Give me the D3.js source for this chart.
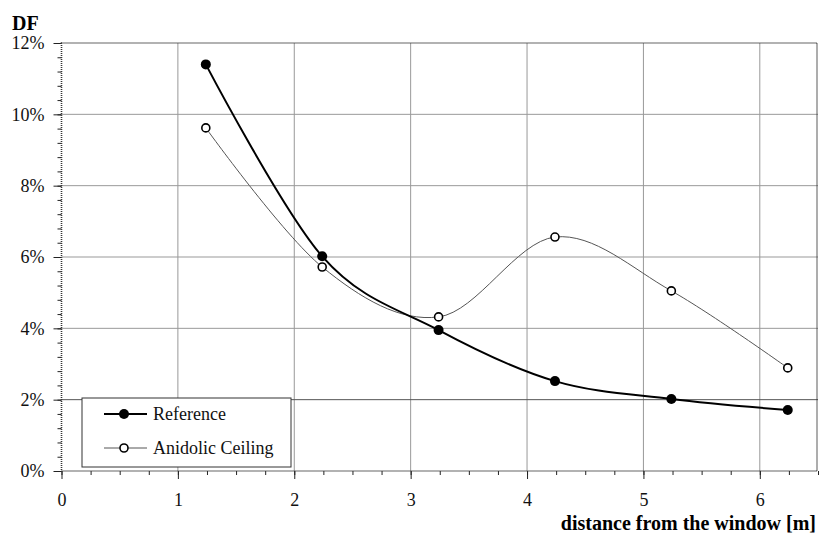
<!DOCTYPE html>
<html>
<head>
<meta charset="utf-8">
<script src="https://cdn.jsdelivr.net/npm/d3@7"></script>
<style>
  body { margin: 0; background: #fff; }
  svg { display: block; }
  svg text { font-family: "Liberation Serif", "DejaVu Serif", serif; }
</style>
</head>
<body>
<div id="chart"></div>
<script>
// Chart data.
var distance = [1.24, 2.24, 3.24, 4.24, 5.24, 6.24];
var referenceDF = [11.4, 6.02, 3.95, 2.52, 2.02, 1.71];
var anidolicDF = [9.62, 5.72, 4.32, 6.56, 5.05, 2.89];
var xTicks = [0, 1, 2, 3, 4, 5, 6];
var yTicks = [0, 2, 4, 6, 8, 10, 12];
var seriesNames = ["Reference", "Anidolic Ceiling"];

var serif = "Liberation Serif, DejaVu Serif, serif";
var width = 819;
var height = 537;
var margin = {top: 43, right: 1, bottom: 66, left: 61.5};

var x = d3.scaleLinear().domain([0, 6.5]).range([margin.left, width - margin.right]);
var y = d3.scaleLinear().domain([0, 12]).range([height - margin.bottom, margin.top]);

var svg = d3.select("#chart").append("svg")
    .attr("width", width)
    .attr("height", height)
    .attr("font-family", serif);

// Grid lines
svg.append("g")
    .selectAll("line")
    .data(xTicks.filter(function(d) { return d > 0; }))
    .enter().append("line")
    .attr("x1", function(d) { return x(d); })
    .attr("x2", function(d) { return x(d); })
    .attr("y1", y(0))
    .attr("y2", y(12))
    .attr("stroke", "#999")
    .attr("stroke-width", 1);

svg.append("g")
    .selectAll("line")
    .data(yTicks.filter(function(d) { return d > 0 && d < 12; }))
    .enter().append("line")
    .attr("x1", x(0))
    .attr("x2", x(6.5))
    .attr("y1", function(d) { return y(d); })
    .attr("y2", function(d) { return y(d); })
    .attr("stroke", function(d) { return d === 2 ? "#555" : "#999"; })
    .attr("stroke-width", 1);

// Axes
var xAxis = d3.axisBottom(x).tickValues(xTicks).tickSize(8).tickFormat(d3.format("d"));
var xMinor = d3.axisBottom(x).tickValues(d3.range(0, 6.51, 0.25)).tickSize(4).tickFormat("");
var yAxis = d3.axisLeft(y).tickValues(yTicks).tickSize(8).tickFormat(function(d) { return d + "%"; });
var yMinor = d3.axisLeft(y).tickValues(d3.range(0, 12.01, 0.4)).tickSize(4).tickFormat("");

function styleAxis(g) {
  g.attr("font-family", serif).attr("font-size", 18);
  g.select(".domain").remove();
  g.selectAll("line").attr("stroke", "#222");
  g.selectAll("text").attr("fill", "#111");
}

svg.append("g").attr("transform", "translate(0," + y(0) + ")").call(xMinor).call(styleAxis);
svg.append("g").attr("transform", "translate(0," + y(0) + ")").call(xAxis).call(styleAxis)
    .selectAll("text").attr("dy", "1.35em");
svg.append("g").attr("transform", "translate(" + x(0) + ",0)").call(yMinor).call(styleAxis);
svg.append("g").attr("transform", "translate(" + x(0) + ",0)").call(yAxis).call(styleAxis)
    .selectAll("text").attr("x", -17).attr("dy", "0.32em");

// Plot frame (dotted, like the scanned original)
svg.append("rect")
    .attr("x", x(0))
    .attr("y", y(12))
    .attr("width", x(6.5) - x(0) - 1)
    .attr("height", y(0) - y(12))
    .attr("fill", "none")
    .attr("stroke", "#333")
    .attr("stroke-width", 1.6)
    .attr("stroke-dasharray", "1,1");

// Series
var refData = distance.map(function(d, i) { return [d, referenceDF[i]]; });
var aniData = distance.map(function(d, i) { return [d, anidolicDF[i]]; });

var line = d3.line()
    .x(function(d) { return x(d[0]); })
    .y(function(d) { return y(d[1]); })
    .curve(d3.curveCardinal.tension(0));

svg.append("path")
    .datum(aniData)
    .attr("d", line)
    .attr("fill", "none")
    .attr("stroke", "#555")
    .attr("stroke-width", 1);

svg.append("path")
    .datum(refData)
    .attr("d", line)
    .attr("fill", "none")
    .attr("stroke", "#000")
    .attr("stroke-width", 2);

svg.append("g").selectAll("circle")
    .data(aniData)
    .enter().append("circle")
    .attr("cx", function(d) { return x(d[0]); })
    .attr("cy", function(d) { return y(d[1]); })
    .attr("r", 4)
    .attr("fill", "#fff")
    .attr("stroke", "#000")
    .attr("stroke-width", 1.6);

svg.append("g").selectAll("circle")
    .data(refData)
    .enter().append("circle")
    .attr("cx", function(d) { return x(d[0]); })
    .attr("cy", function(d) { return y(d[1]); })
    .attr("r", 5)
    .attr("fill", "#000");

// Legend
var legend = svg.append("g").attr("transform", "translate(82,398)");
legend.append("rect")
    .attr("width", 209)
    .attr("height", 69)
    .attr("fill", "#fff")
    .attr("stroke", "#333")
    .attr("stroke-width", 1);

var rows = legend.selectAll("g.row")
    .data(seriesNames)
    .enter().append("g")
    .attr("class", "row")
    .attr("transform", function(d, i) { return "translate(0," + (16 + i * 34) + ")"; });

rows.append("line")
    .attr("x1", 22).attr("x2", 65)
    .attr("stroke", function(d, i) { return i ? "#555" : "#000"; })
    .attr("stroke-width", function(d, i) { return i ? 1 : 2; });

rows.append("circle")
    .attr("cx", 42)
    .attr("r", function(d, i) { return i ? 4 : 5; })
    .attr("fill", function(d, i) { return i ? "#fff" : "#000"; })
    .attr("stroke", "#000")
    .attr("stroke-width", function(d, i) { return i ? 1.6 : 0; });

rows.append("text")
    .attr("x", 71)
    .attr("dy", "0.33em")
    .attr("font-size", 18)
    .attr("fill", "#111")
    .text(function(d) { return d; });

// Titles
svg.append("text")
    .attr("x", 12)
    .attr("y", 30)
    .attr("font-size", 20)
    .attr("font-weight", "bold")
    .text("DF");

svg.append("text")
    .attr("x", 816)
    .attr("y", 530)
    .attr("text-anchor", "end")
    .attr("font-size", 20)
    .attr("font-weight", "bold")
    .text("distance from the window [m]");
</script>
</body>
</html>
